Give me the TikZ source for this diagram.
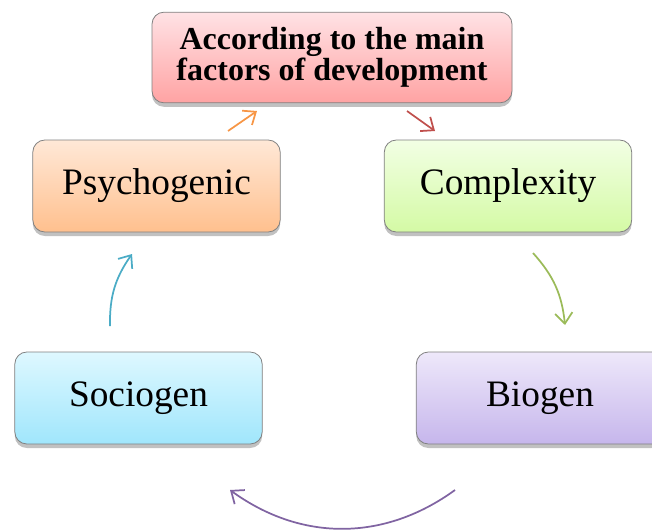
\documentclass[tikz,border=0pt]{standalone}
\usepackage{fontspec}
\setmainfont{Liberation Serif}
\usetikzlibrary{arrows.meta,shadows}

\definecolor{redtop}{RGB}{255,226,229}
\definecolor{redbot}{RGB}{255,163,163}
\definecolor{orgtop}{RGB}{255,232,215}
\definecolor{orgbot}{RGB}{255,192,142}
\definecolor{grntop}{RGB}{242,255,228}
\definecolor{grnbot}{RGB}{212,250,165}
\definecolor{cyntop}{RGB}{222,248,255}
\definecolor{cynbot}{RGB}{160,230,252}
\definecolor{prptop}{RGB}{238,232,250}
\definecolor{prpbot}{RGB}{198,182,236}
\definecolor{arrorg}{RGB}{247,150,70}
\definecolor{arrred}{RGB}{192,80,77}
\definecolor{arrgrn}{RGB}{155,187,89}
\definecolor{arrprp}{RGB}{128,100,162}
\definecolor{arrcyn}{RGB}{75,172,198}

\begin{document}
\begin{tikzpicture}[x=0.75pt,y=-0.75pt]
\tikzset{factor/.style = {shape=rectangle,rounded corners=9pt,draw=black!50,line width=0.6pt,
  minimum width=185.5pt,minimum height=69pt,align=center,
  font=\fontsize{28}{32}\selectfont,
  drop shadow={shadow xshift=0pt,shadow yshift=-3pt,opacity=0.35,fill=black!70}}}
\tikzset{cycle/.style = {-{Straight Barb[length=8pt,width=13pt]},line width=1.3pt}}
\useasboundingbox (0,0) rectangle (652,529);
% factors
\node[factor,minimum width=270pt,minimum height=68pt,top color=redtop,bottom color=redbot,
  font=\fontsize{24}{23.5}\selectfont\bfseries] (main) at (332,57.5) {According to the main\\factors of development};
\node[factor,top color=orgtop,bottom color=orgbot] (psy) at (156.5,186) {Psychogenic};
\node[factor,top color=grntop,bottom color=grnbot] (cpx) at (508,186) {Complexity};
\node[factor,top color=cyntop,bottom color=cynbot] (soc) at (138.5,398) {Sociogen};
\node[factor,top color=prptop,bottom color=prpbot] (bio) at (540,398) {Biogen};
% arrow ends
\coordinate (o1) at (228,131); \coordinate (o2) at (257,111);
\coordinate (r1) at (407,111); \coordinate (r2) at (435,131);
\coordinate (g1) at (533,253); \coordinate (g2) at (565,325);
\coordinate (p1) at (455,490); \coordinate (p2) at (230,490);
\coordinate (c1) at (110,326); \coordinate (c2) at (132,254);
%arrows
\draw[cycle,arrorg] (o1) -- (o2);
\draw[cycle,arrred] (r1) -- (r2);
\draw[cycle,arrgrn] (g1) to[bend left=18] (g2);
\draw[cycle,arrprp] (p1) to[bend left=36] (p2);
\draw[cycle,arrcyn] (c1) to[bend left=18] (c2);
\end{tikzpicture}
\end{document}
